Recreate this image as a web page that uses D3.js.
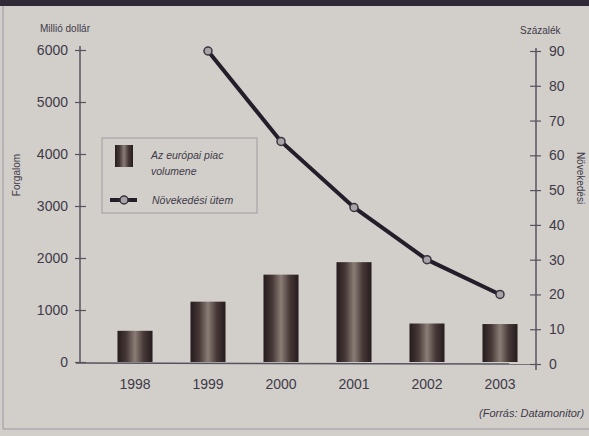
<!DOCTYPE html>
<html><head><meta charset="utf-8">
<script src="https://cdn.jsdelivr.net/npm/d3@7"></script>
<style>
body{margin:0;background:#d2cfcb;}
svg{display:block;}
text{font-family:"Liberation Sans",Arial,sans-serif;fill:#403a48;}
</style></head>
<body>
<svg id="c" width="589" height="436"></svg>
<script>
const years = ["1998","1999","2000","2001","2002","2003"];
const volume = [600, 1160, 1680, 1920, 740, 730];
const growthYears = ["1999","2000","2001","2002","2003"];
const growth = [90, 64, 45, 30, 20];
const leftTicks = [0,1000,2000,3000,4000,5000,6000];
const rightTicks = [0,10,20,30,40,50,60,70,80,90];

const svg = d3.select("#c");
svg.append("rect").attr("width",589).attr("height",436).attr("fill","#d2cfcb");
svg.append("rect").attr("width",589).attr("height",6).attr("fill","#2f2a35");
svg.append("line").attr("x1",3).attr("x2",3).attr("y1",6).attr("y2",429).attr("stroke","#9a96a0").attr("stroke-width",1);
svg.append("line").attr("x1",3).attr("x2",589).attr("y1",429).attr("y2",429).attr("stroke","#9a96a0").attr("stroke-width",1);

const defs = svg.append("defs");
const g = defs.append("linearGradient").attr("id","bar").attr("x1","0").attr("x2","1").attr("y1","0").attr("y2","0");
[[0,"#261c1e"],[0.25,"#463836"],[0.5,"#8a7d76"],[0.75,"#463836"],[1,"#261c1e"]].forEach(s=>g.append("stop").attr("offset",s[0]).attr("stop-color",s[1]));

const x = d3.scaleBand().domain(years).range([98.5,536.5]).paddingInner(0.52).paddingOuter(0.26);
const yL = d3.scaleLinear().domain([0,6000]).range([362,50]);
const yR = d3.scaleLinear().domain([0,90]).range([364,51]);

const axisCol = "#57525f";
const fmt = d3.format("d");
svg.selectAll("rect.bar").data(years).join("rect").attr("class","bar")
  .attr("x",d=>x(d)).attr("width",x.bandwidth())
  .attr("y",(d,i)=>yL(volume[i])).attr("height",(d,i)=>yL(0)-yL(volume[i]))
  .attr("fill","url(#bar)");

const la = svg.append("g").attr("transform","translate(80,0)")
  .call(d3.axisLeft(yL).tickValues(leftTicks).tickFormat(fmt).tickSize(5).tickPadding(7).tickSizeOuter(0));
la.select(".domain").attr("stroke",axisCol).attr("stroke-width",1.5).attr("d","M0,46V363");
la.selectAll(".tick line").attr("stroke",axisCol).attr("x1",6).attr("x2",-5).attr("stroke-width",1.2);
la.selectAll(".tick text").attr("font-size",14).attr("fill","#403a48").style("font-family","'Liberation Sans',Arial,sans-serif");

const ra = svg.append("g").attr("transform","translate(536,0)")
  .call(d3.axisRight(yR).tickValues(rightTicks).tickFormat(fmt).tickSize(5).tickPadding(8).tickSizeOuter(0));
ra.select(".domain").attr("stroke",axisCol).attr("stroke-width",1.5).attr("d","M0,48V370");
ra.selectAll(".tick line").attr("stroke",axisCol).attr("x1",-6).attr("x2",5).attr("stroke-width",1.2);
ra.selectAll(".tick text").attr("font-size",14).attr("fill","#403a48").style("font-family","'Liberation Sans',Arial,sans-serif");

svg.append("line").attr("x1",76).attr("x2",541).attr("y1",363).attr("y2",364).attr("stroke",axisCol).attr("stroke-width",1.5);
svg.selectAll("text.yr").data(years).join("text").attr("class","yr")
  .attr("x",d=>x(d)+x.bandwidth()/2).attr("y",389).attr("text-anchor","middle").attr("font-size",14).text(d=>d);

const line = d3.line().x((d,i)=>x(growthYears[i])+x.bandwidth()/2).y(d=>yR(d));
svg.append("path").datum(growth).attr("d",line).attr("fill","none").attr("stroke","#241e2a").attr("stroke-width",4);
svg.selectAll("circle.pt").data(growth).join("circle").attr("class","pt")
  .attr("cx",(d,i)=>x(growthYears[i])+x.bandwidth()/2).attr("cy",d=>yR(d)).attr("r",4)
  .attr("fill","#a8a3a6").attr("stroke","#3a3440").attr("stroke-width",1.5);

svg.append("text").attr("x",40).attr("y",32).attr("font-size",10).text("Millió dollár");
svg.append("text").attr("x",520).attr("y",34).attr("font-size",10).text("Százalék");
svg.append("text").attr("transform","translate(20,175) rotate(-90)").attr("text-anchor","middle").attr("font-size",10).text("Forgalom");
svg.append("text").attr("transform","translate(577,178) rotate(90)").attr("text-anchor","middle").attr("font-size",10).text("Növekedési");

svg.append("rect").attr("x",102).attr("y",138).attr("width",155).attr("height",75).attr("fill","none").attr("stroke","#a09ca4").attr("stroke-width",1);
svg.append("rect").attr("x",115).attr("y",145).attr("width",18).attr("height",22).attr("fill","url(#bar)");
svg.append("text").attr("x",151).attr("y",159).attr("font-size",10.5).attr("font-style","italic").text("Az európai piac");
svg.append("text").attr("x",151).attr("y",175).attr("font-size",10.5).attr("font-style","italic").text("volumene");
svg.append("line").attr("x1",110).attr("x2",137).attr("y1",200).attr("y2",200).attr("stroke","#241e2a").attr("stroke-width",4);
svg.append("circle").attr("cx",124).attr("cy",200).attr("r",4).attr("fill","#a8a3a6").attr("stroke","#3a3440").attr("stroke-width",1.5);
svg.append("text").attr("x",152).attr("y",204).attr("font-size",10.5).attr("font-style","italic").text("Növekedési ütem");

svg.append("text").attr("x",479).attr("y",417).attr("font-size",11).attr("font-style","italic").text("(Forrás: Datamonitor)");
</script>
</body></html>
